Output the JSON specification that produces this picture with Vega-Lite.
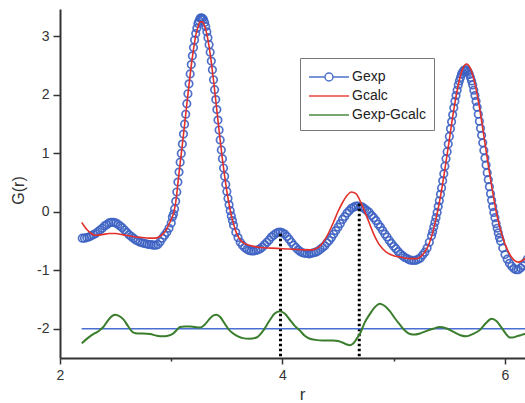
{
  "$schema": "https://vega.github.io/schema/vega-lite/v6.json",
  "width": 465,
  "height": 349,
  "autosize": {"type": "none"},
  "padding": {"left": 60, "top": 9, "right": 0, "bottom": 45},
  "background": "white",
  "config": {
    "view": {"stroke": null},
    "font": "Liberation Sans",
    "legend": {
      "orient": "none", "legendX": 240, "legendY": 49, "direction": "vertical",
      "symbolSize": 400, "symbolStrokeWidth": 1.5, "symbolOffset": 10,
      "labelFont": "Liberation Sans", "labelFontSize": 14, "labelColor": "#222", "labelOffset": 12,
      "padding": 8, "rowPadding": 1, "strokeColor": "#777", "fillColor": "white"
    }
  },
  "datasets": {
    "exp": [
      {"r":2.20,"g":-0.45},{"r":2.22,"g":-0.45},{"r":2.24,"g":-0.44},{"r":2.26,"g":-0.43},{"r":2.28,"g":-0.41},{"r":2.30,"g":-0.39},{"r":2.32,"g":-0.37},{"r":2.34,"g":-0.34},{"r":2.36,"g":-0.31},{"r":2.38,"g":-0.28},{"r":2.40,"g":-0.24},{"r":2.42,"g":-0.22},{"r":2.44,"g":-0.19},{"r":2.46,"g":-0.18},{"r":2.48,"g":-0.18},{"r":2.50,"g":-0.19},{"r":2.52,"g":-0.21},{"r":2.54,"g":-0.24},{"r":2.56,"g":-0.27},{"r":2.58,"g":-0.31},{"r":2.60,"g":-0.35},{"r":2.62,"g":-0.39},{"r":2.64,"g":-0.42},{"r":2.66,"g":-0.45},{"r":2.68,"g":-0.48},{"r":2.70,"g":-0.50},{"r":2.72,"g":-0.52},{"r":2.74,"g":-0.53},{"r":2.76,"g":-0.54},{"r":2.78,"g":-0.55},{"r":2.80,"g":-0.56},{"r":2.82,"g":-0.56},{"r":2.84,"g":-0.57},{"r":2.86,"g":-0.57},{"r":2.88,"g":-0.56},{"r":2.90,"g":-0.51},{"r":2.92,"g":-0.45},{"r":2.94,"g":-0.40},{"r":2.96,"g":-0.35},{"r":2.98,"g":-0.28},
      {"r":3.00,"g":-0.19},{"r":3.01,"g":-0.09},{"r":3.02,"g":-0.04},{"r":3.03,"g":0.05},{"r":3.04,"g":0.18},{"r":3.05,"g":0.34},{"r":3.06,"g":0.51},{"r":3.07,"g":0.68},{"r":3.08,"g":0.85},{"r":3.09,"g":1.00},{"r":3.10,"g":1.16},{"r":3.11,"g":1.33},{"r":3.12,"g":1.50},{"r":3.13,"g":1.67},{"r":3.14,"g":1.85},{"r":3.15,"g":2.02},{"r":3.16,"g":2.19},{"r":3.17,"g":2.36},{"r":3.18,"g":2.52},{"r":3.19,"g":2.67},{"r":3.20,"g":2.81},{"r":3.21,"g":2.94},{"r":3.22,"g":3.05},{"r":3.23,"g":3.14},{"r":3.24,"g":3.22},{"r":3.25,"g":3.27},{"r":3.26,"g":3.31},{"r":3.27,"g":3.32},{"r":3.28,"g":3.31},{"r":3.29,"g":3.29},{"r":3.30,"g":3.24},{"r":3.31,"g":3.17},{"r":3.32,"g":3.08},{"r":3.33,"g":2.98},{"r":3.34,"g":2.86},{"r":3.35,"g":2.73},{"r":3.36,"g":2.58},{"r":3.37,"g":2.43},{"r":3.38,"g":2.26},{"r":3.39,"g":2.09},{"r":3.40,"g":1.92},{"r":3.41,"g":1.75},{"r":3.42,"g":1.57},{"r":3.43,"g":1.40},{"r":3.44,"g":1.23},{"r":3.45,"g":1.06},{"r":3.46,"g":0.91},{"r":3.47,"g":0.75},{"r":3.48,"g":0.61},{"r":3.49,"g":0.47},{"r":3.50,"g":0.35},{"r":3.51,"g":0.23},{"r":3.52,"g":0.12},{"r":3.53,"g":0.02},{"r":3.54,"g":-0.07},{"r":3.55,"g":-0.15},{"r":3.56,"g":-0.23},
      {"r":3.58,"g":-0.35},{"r":3.60,"g":-0.44},{"r":3.62,"g":-0.52},{"r":3.64,"g":-0.57},{"r":3.66,"g":-0.61},{"r":3.68,"g":-0.64},{"r":3.70,"g":-0.66},{"r":3.72,"g":-0.67},{"r":3.74,"g":-0.67},{"r":3.76,"g":-0.66},{"r":3.78,"g":-0.65},{"r":3.80,"g":-0.63},{"r":3.82,"g":-0.60},{"r":3.84,"g":-0.56},{"r":3.86,"g":-0.52},{"r":3.88,"g":-0.48},{"r":3.90,"g":-0.43},{"r":3.92,"g":-0.40},{"r":3.94,"g":-0.37},{"r":3.96,"g":-0.35},{"r":3.98,"g":-0.345},{"r":4.00,"g":-0.36},{"r":4.02,"g":-0.38},{"r":4.04,"g":-0.42},{"r":4.06,"g":-0.47},{"r":4.08,"g":-0.52},{"r":4.10,"g":-0.57},{"r":4.12,"g":-0.61},{"r":4.14,"g":-0.65},{"r":4.16,"g":-0.68},{"r":4.18,"g":-0.70},{"r":4.20,"g":-0.71},{"r":4.22,"g":-0.71},{"r":4.24,"g":-0.72},{"r":4.26,"g":-0.71},{"r":4.28,"g":-0.70},{"r":4.30,"g":-0.69},{"r":4.32,"g":-0.67},{"r":4.34,"g":-0.64},{"r":4.36,"g":-0.61},{"r":4.38,"g":-0.58},{"r":4.40,"g":-0.53},{"r":4.42,"g":-0.49},{"r":4.44,"g":-0.44},{"r":4.46,"g":-0.38},{"r":4.48,"g":-0.32},{"r":4.50,"g":-0.26},{"r":4.52,"g":-0.20},{"r":4.54,"g":-0.13},{"r":4.56,"g":-0.08},{"r":4.58,"g":-0.02},{"r":4.60,"g":0.02},{"r":4.62,"g":0.06},{"r":4.64,"g":0.08},{"r":4.66,"g":0.10},{"r":4.68,"g":0.10},{"r":4.70,"g":0.09},{"r":4.72,"g":0.08},{"r":4.74,"g":0.05},{"r":4.76,"g":0.02},{"r":4.78,"g":-0.01},{"r":4.80,"g":-0.06},{"r":4.82,"g":-0.10},{"r":4.84,"g":-0.15},{"r":4.86,"g":-0.21},{"r":4.88,"g":-0.26},{"r":4.90,"g":-0.32},{"r":4.92,"g":-0.38},{"r":4.94,"g":-0.43},{"r":4.96,"g":-0.49},{"r":4.98,"g":-0.54},{"r":5.00,"g":-0.59},{"r":5.02,"g":-0.63},{"r":5.04,"g":-0.68},{"r":5.06,"g":-0.72},{"r":5.08,"g":-0.75},{"r":5.10,"g":-0.78},{"r":5.12,"g":-0.80},{"r":5.14,"g":-0.82},{"r":5.16,"g":-0.83},{"r":5.18,"g":-0.83},{"r":5.20,"g":-0.83},{"r":5.22,"g":-0.81},{"r":5.24,"g":-0.79},{"r":5.26,"g":-0.74},{"r":5.28,"g":-0.69},{"r":5.30,"g":-0.62},{"r":5.32,"g":-0.52},{"r":5.34,"g":-0.41},
      {"r":5.35,"g":-0.34},{"r":5.36,"g":-0.26},{"r":5.37,"g":-0.18},{"r":5.38,"g":-0.10},{"r":5.39,"g":-0.01},{"r":5.40,"g":0.09},{"r":5.41,"g":0.19},{"r":5.42,"g":0.30},{"r":5.43,"g":0.41},{"r":5.44,"g":0.53},{"r":5.45,"g":0.65},{"r":5.46,"g":0.78},{"r":5.47,"g":0.91},{"r":5.48,"g":1.03},{"r":5.49,"g":1.16},{"r":5.50,"g":1.29},{"r":5.51,"g":1.42},{"r":5.52,"g":1.54},{"r":5.53,"g":1.66},{"r":5.54,"g":1.78},{"r":5.55,"g":1.89},{"r":5.56,"g":1.99},{"r":5.57,"g":2.08},{"r":5.58,"g":2.17},{"r":5.59,"g":2.24},{"r":5.60,"g":2.30},{"r":5.61,"g":2.36},{"r":5.62,"g":2.39},{"r":5.63,"g":2.42},{"r":5.64,"g":2.43},{"r":5.65,"g":2.43},{"r":5.66,"g":2.42},{"r":5.67,"g":2.39},{"r":5.68,"g":2.35},{"r":5.69,"g":2.30},{"r":5.70,"g":2.24},{"r":5.71,"g":2.17},{"r":5.72,"g":2.08},{"r":5.73,"g":1.99},{"r":5.74,"g":1.89},{"r":5.75,"g":1.79},{"r":5.76,"g":1.67},{"r":5.77,"g":1.55},{"r":5.78,"g":1.43},{"r":5.79,"g":1.31},{"r":5.80,"g":1.18},{"r":5.81,"g":1.05},{"r":5.82,"g":0.92},{"r":5.83,"g":0.80},{"r":5.84,"g":0.67},{"r":5.85,"g":0.55},{"r":5.86,"g":0.43},{"r":5.87,"g":0.31},{"r":5.88,"g":0.20},{"r":5.89,"g":0.09},{"r":5.90,"g":-0.01},{"r":5.91,"g":-0.10},{"r":5.92,"g":-0.20},{"r":5.93,"g":-0.28},{"r":5.94,"g":-0.36},{"r":5.95,"g":-0.44},{"r":5.96,"g":-0.50},
      {"r":5.98,"g":-0.62},{"r":6.00,"g":-0.73},{"r":6.02,"g":-0.81},{"r":6.04,"g":-0.88},{"r":6.06,"g":-0.93},{"r":6.08,"g":-0.97},{"r":6.10,"g":-0.99},{"r":6.12,"g":-0.99},{"r":6.14,"g":-0.96},{"r":6.16,"g":-0.92},{"r":6.18,"g":-0.87},{"r":6.20,"g":-0.81}
    ],
    "calc": [
      {"r":2.195,"g":-0.18},{"r":2.22,"g":-0.25},{"r":2.25,"g":-0.32},{"r":2.28,"g":-0.37},{"r":2.32,"g":-0.40},{"r":2.38,"g":-0.39},{"r":2.44,"g":-0.37},{"r":2.50,"g":-0.37},{"r":2.56,"g":-0.39},{"r":2.62,"g":-0.41},{"r":2.68,"g":-0.43},{"r":2.74,"g":-0.44},{"r":2.80,"g":-0.45},{"r":2.85,"g":-0.45},{"r":2.89,"g":-0.43},{"r":2.93,"g":-0.37},{"r":2.96,"g":-0.29},{"r":2.98,"g":-0.21},{"r":3.00,"g":-0.13},{"r":3.02,"g":-0.03},{"r":3.04,"g":0.16},{"r":3.06,"g":0.49},{"r":3.08,"g":0.83},{"r":3.10,"g":1.15},{"r":3.12,"g":1.49},{"r":3.14,"g":1.84},{"r":3.16,"g":2.18},{"r":3.18,"g":2.50},{"r":3.20,"g":2.78},{"r":3.22,"g":3.01},{"r":3.24,"g":3.16},{"r":3.26,"g":3.25},{"r":3.28,"g":3.25},{"r":3.30,"g":3.18},{"r":3.32,"g":3.04},{"r":3.34,"g":2.83},{"r":3.36,"g":2.56},{"r":3.38,"g":2.25},{"r":3.40,"g":1.91},{"r":3.42,"g":1.56},{"r":3.44,"g":1.22},{"r":3.46,"g":0.90},{"r":3.48,"g":0.61},{"r":3.50,"g":0.35},{"r":3.52,"g":0.13},{"r":3.54,"g":-0.06},{"r":3.56,"g":-0.21},{"r":3.58,"g":-0.33},{"r":3.60,"g":-0.42},{"r":3.63,"g":-0.50},{"r":3.67,"g":-0.55},{"r":3.72,"g":-0.58},{"r":3.80,"g":-0.61},{"r":3.90,"g":-0.62},{"r":4.00,"g":-0.63},{"r":4.10,"g":-0.64},{"r":4.20,"g":-0.65},{"r":4.26,"g":-0.65},{"r":4.30,"g":-0.63},{"r":4.34,"g":-0.58},{"r":4.38,"g":-0.48},{"r":4.42,"g":-0.34},{"r":4.46,"g":-0.17},{"r":4.50,"g":0.01},{"r":4.54,"g":0.16},{"r":4.58,"g":0.28},{"r":4.62,"g":0.34},{"r":4.66,"g":0.31},{"r":4.70,"g":0.18},{"r":4.74,"g":0.00},{"r":4.78,"g":-0.19},{"r":4.82,"g":-0.38},{"r":4.86,"g":-0.53},{"r":4.90,"g":-0.63},{"r":4.95,"g":-0.71},{"r":5.00,"g":-0.75},{"r":5.05,"g":-0.77},{"r":5.10,"g":-0.79},{"r":5.15,"g":-0.80},{"r":5.20,"g":-0.80},{"r":5.24,"g":-0.77},{"r":5.27,"g":-0.71},{"r":5.30,"g":-0.62},{"r":5.34,"g":-0.42},{"r":5.38,"g":-0.12},{"r":5.42,"g":0.26},{"r":5.46,"g":0.73},{"r":5.50,"g":1.24},{"r":5.54,"g":1.75},{"r":5.58,"g":2.17},{"r":5.62,"g":2.45},{"r":5.655,"g":2.53},{"r":5.69,"g":2.45},{"r":5.73,"g":2.19},{"r":5.77,"g":1.79},{"r":5.81,"g":1.30},{"r":5.85,"g":0.80},{"r":5.89,"g":0.33},{"r":5.93,"g":-0.08},{"r":5.97,"g":-0.38},{"r":6.01,"g":-0.60},{"r":6.05,"g":-0.75},{"r":6.09,"g":-0.84},{"r":6.12,"g":-0.86},{"r":6.15,"g":-0.84},{"r":6.18,"g":-0.80},{"r":6.20,"g":-0.77}
    ],
    "diff": [
      {"r":2.195,"g":-2.25},{"r":2.23,"g":-2.19},{"r":2.27,"g":-2.13},{"r":2.30,"g":-2.09},{"r":2.33,"g":-2.06},{"r":2.36,"g":-2.02},{"r":2.39,"g":-1.97},{"r":2.43,"g":-1.86},{"r":2.47,"g":-1.78},{"r":2.494,"g":-1.76},{"r":2.52,"g":-1.77},{"r":2.57,"g":-1.84},{"r":2.61,"g":-1.95},{"r":2.656,"g":-2.06},{"r":2.70,"g":-2.08},{"r":2.75,"g":-2.08},{"r":2.81,"g":-2.09},{"r":2.87,"g":-2.12},{"r":2.925,"g":-2.13},{"r":2.97,"g":-2.12},{"r":3.018,"g":-2.08},{"r":3.05,"g":-2.02},{"r":3.078,"g":-1.97},{"r":3.12,"g":-1.96},{"r":3.168,"g":-1.96},{"r":3.21,"g":-1.97},{"r":3.258,"g":-1.98},{"r":3.30,"g":-1.93},{"r":3.35,"g":-1.82},{"r":3.38,"g":-1.77},{"r":3.408,"g":-1.76},{"r":3.44,"g":-1.80},{"r":3.48,"g":-1.91},{"r":3.52,"g":-2.02},{"r":3.557,"g":-2.08},{"r":3.60,"g":-2.13},{"r":3.644,"g":-2.16},{"r":3.70,"g":-2.17},{"r":3.767,"g":-2.15},{"r":3.82,"g":-2.05},{"r":3.887,"g":-1.85},{"r":3.93,"g":-1.74},{"r":3.977,"g":-1.70},{"r":4.02,"g":-1.74},{"r":4.067,"g":-1.85},{"r":4.11,"g":-1.95},{"r":4.156,"g":-2.03},{"r":4.20,"g":-2.12},{"r":4.246,"g":-2.17},{"r":4.30,"g":-2.19},{"r":4.36,"g":-2.20},{"r":4.41,"g":-2.20},{"r":4.456,"g":-2.20},{"r":4.50,"g":-2.21},{"r":4.545,"g":-2.24},{"r":4.58,"g":-2.27},{"r":4.606,"g":-2.28},{"r":4.63,"g":-2.26},{"r":4.65,"g":-2.22},{"r":4.67,"g":-2.16},{"r":4.695,"g":-2.09},{"r":4.74,"g":-1.89},{"r":4.785,"g":-1.75},{"r":4.83,"g":-1.63},{"r":4.875,"g":-1.57},{"r":4.92,"g":-1.61},{"r":4.965,"g":-1.70},{"r":5.01,"g":-1.82},{"r":5.055,"g":-1.93},{"r":5.10,"g":-2.03},{"r":5.145,"g":-2.09},{"r":5.19,"g":-2.10},{"r":5.235,"g":-2.08},{"r":5.29,"g":-2.04},{"r":5.354,"g":-2.00},{"r":5.414,"g":-1.97},{"r":5.47,"g":-1.99},{"r":5.534,"g":-2.05},{"r":5.60,"g":-2.11},{"r":5.654,"g":-2.13},{"r":5.71,"g":-2.09},{"r":5.774,"g":-2.02},{"r":5.83,"g":-1.90},{"r":5.879,"g":-1.83},{"r":5.925,"g":-1.87},{"r":5.969,"g":-1.98},{"r":6.01,"g":-2.09},{"r":6.043,"g":-2.15},{"r":6.07,"g":-2.15},{"r":6.103,"g":-2.13},{"r":6.14,"g":-2.11},{"r":6.178,"g":-2.09},{"r":6.20,"g":-2.08}
    ],
    "zero": [{"r":2.195,"r2":6.3,"g":-2}],
    "drops": [{"r":3.982,"lo":-2.47,"hi":-0.33},{"r":4.69,"lo":-2.47,"hi":0.14}]
  },
  "layer": [
    {
      "data": {"name": "exp"},
      "mark": {"type": "point", "shape": "circle", "filled": false, "size": 56, "strokeWidth": 1.7, "opacity": 0.9, "clip": true},
      "encoding": {
        "x": {"field": "r", "type": "quantitative",
          "scale": {"domain": [2, 6.18], "nice": false, "zero": false},
          "axis": {
            "title": "r", "grid": false,
            "values": [2, 3, 4, 5, 6],
            "labelExpr": "datum.value % 2 === 0 ? '' + datum.value : ''",
            "labelFlush": false,
            "tickSize": {"condition": {"test": "datum.value % 2 === 0", "value": 6}, "value": 3},
            "domainColor": "#333", "domainWidth": 2, "tickColor": "#333", "tickWidth": 1.5,
            "labelFont": "Liberation Sans", "labelFontSize": 14, "labelColor": "#333", "labelPadding": 4,
            "titleFont": "Liberation Sans", "titleFontSize": 17, "titleFontWeight": "normal", "titleColor": "#333",
            "titleX": 242, "titleY": 41, "titleBaseline": "alphabetic", "titleAlign": "center"
          }
        },
        "y": {"field": "g", "type": "quantitative",
          "scale": {"domain": [-2.5, 3.47], "nice": false, "zero": false},
          "axis": {
            "title": "G(r)", "grid": false,
            "values": [-2, -1.5, -1, -0.5, 0, 0.5, 1, 1.5, 2, 2.5, 3],
            "labelExpr": "datum.value % 1 === 0 ? '' + datum.value : ''",
            "tickSize": {"condition": {"test": "datum.value % 1 === 0", "value": 7}, "value": 3},
            "domainColor": "#333", "domainWidth": 2, "tickColor": "#333", "tickWidth": 1.5,
            "labelFont": "Liberation Sans", "labelFontSize": 14, "labelColor": "#333", "labelPadding": 4,
            "titleFont": "Liberation Sans", "titleFontSize": 16, "titleFontWeight": "normal", "titleColor": "#333",
            "titleAngle": -90, "titleX": -42, "titleY": 181, "titleBaseline": "middle", "titleAlign": "center"
          }
        },
        "color": {"datum": "Gexp", "type": "nominal",
          "scale": {"domain": ["Gexp", "Gcalc", "Gexp-Gcalc"], "range": ["#3d62c4", "#e3302a", "#3a7d2c"]},
          "legend": {"title": null}
        }
      }
    },
    {
      "data": {"values": []},
      "mark": {"type": "point", "filled": false},
      "encoding": {
        "color": {"datum": "Gexp", "type": "nominal", "legend": {"title": null}},
        "shape": {"datum": "Gexp", "type": "nominal",
          "scale": {"domain": ["Gexp", "Gcalc", "Gexp-Gcalc"],
            "range": ["M-2,0H-0.4M0.4,0H2M-0.4,0A0.4,0.4,0,1,0,0.4,0A0.4,0.4,0,1,0,-0.4,0", "M-2,0H2", "M-2,0H2"]},
          "legend": {"title": null}
        }
      }
    },
    {
      "data": {"name": "drops"},
      "mark": {"type": "rule", "color": "black", "strokeWidth": 3, "strokeDash": [2.6, 2.4]},
      "encoding": {
        "x": {"field": "r", "type": "quantitative"},
        "y": {"field": "lo", "type": "quantitative"},
        "y2": {"field": "hi"}
      }
    },
    {
      "data": {"name": "calc"},
      "mark": {"type": "line", "strokeWidth": 1.6, "interpolate": "monotone", "clip": true},
      "encoding": {
        "x": {"field": "r", "type": "quantitative"},
        "y": {"field": "g", "type": "quantitative"},
        "color": {"datum": "Gcalc", "type": "nominal"}
      }
    },
    {
      "data": {"name": "zero"},
      "mark": {"type": "rule", "color": "#4a6fd2", "strokeWidth": 1.5, "clip": true},
      "encoding": {
        "x": {"field": "r", "type": "quantitative"},
        "x2": {"field": "r2"},
        "y": {"field": "g", "type": "quantitative"}
      }
    },
    {
      "data": {"name": "diff"},
      "mark": {"type": "line", "strokeWidth": 2, "interpolate": "monotone", "clip": true},
      "encoding": {
        "x": {"field": "r", "type": "quantitative"},
        "y": {"field": "g", "type": "quantitative"},
        "color": {"datum": "Gexp-Gcalc", "type": "nominal"}
      }
    }
  ]
}
